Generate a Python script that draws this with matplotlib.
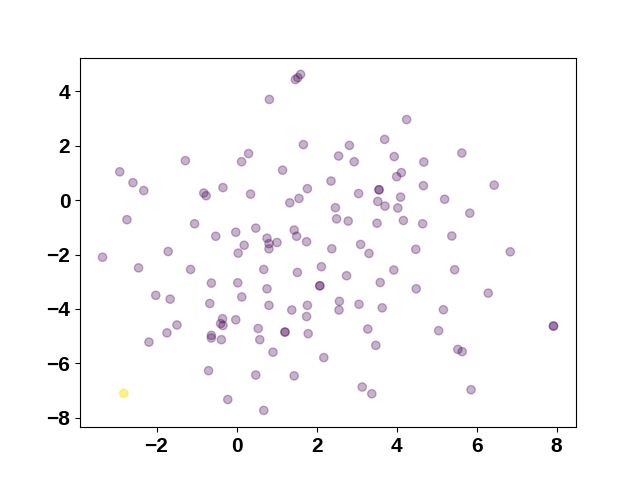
import matplotlib
matplotlib.use("Agg")
import matplotlib.pyplot as plt
import numpy as np

x = [1.60, 1.47, 1.53, 0.82, 1.67, 0.30, 0.125, -1.28, -2.92, -2.59, -2.32, 1.15,
     2.36, -0.82, -0.76, -0.34, 0.35, 1.77, 1.56, 1.33, -2.74, -1.05, -0.52, -0.02,
     0.48, 1.44, 1.50, 1.75, 0.76, 0.81, 0.81, 1.01, 0.19, 0.04, -3.35, -1.71,
     -2.45, -1.15, 0.68, 1.52, 2.12, 2.08, 2.08, -0.63, 0.03, 0.76, -2.02, -1.66,
     0.13, -0.67, 0.81, 1.38, 1.77, 1.75, -0.35, -0.40, -0.34, -0.02, -1.49, -1.74,
     -2.19, -0.63, -0.63, -0.38, 0.54, 0.58, 1.21, 1.21, 1.79, 0.91, 2.18, -0.70,
     0.48, 1.44, -0.22, 0.68, -2.82, -2.82,
     4.25, 3.70, 2.82, 2.55, 2.94, 3.94, 4.68, 5.63, 4.12, 4.00, 6.44, 4.67,
     3.56, 3.56, 3.05, 3.53, 3.71, 4.10, 4.03, 5.20, 5.83, 2.47, 2.50, 2.79,
     3.51, 4.17, 4.65, 5.38, 3.10, 2.38, 3.31, 4.48, 6.84, 2.75, 3.93, 5.45,
     3.59, 4.49, 6.29, 2.57, 2.56, 3.06, 3.64, 5.17, 7.92, 7.92, 3.28, 5.05,
     3.48, 5.53, 5.64, 3.14, 3.38, 5.86]
y = [4.62, 4.43, 4.50, 3.70, 2.04, 1.71, 1.41, 1.45, 1.04, 0.64, 0.35, 1.10,
     0.70, 0.26, 0.16, 0.46, 0.22, 0.42, 0.06, -0.10, -0.72, -0.87, -1.33, -1.18,
     -1.03, -1.10, -1.33, -1.53, -1.40, -1.60, -1.79, -1.56, -1.66, -1.95, -2.10, -1.89,
     -2.49, -2.55, -2.55, -2.66, -2.45, -3.15, -3.15, -3.05, -3.04, -3.26, -3.50, -3.64,
     -3.56, -3.80, -3.87, -4.04, -3.87, -4.28, -4.36, -4.54, -4.61, -4.40, -4.59, -4.88,
     -5.22, -4.97, -5.07, -5.13, -4.72, -5.13, -4.85, -4.85, -4.91, -5.59, -5.79, -6.27,
     -6.43, -6.46, -7.33, -7.73, -7.10, -7.10,
     2.96, 2.23, 2.01, 1.62, 1.41, 1.60, 1.40, 1.73, 1.01, 0.86, 0.55, 0.53,
     0.38, 0.38, 0.24, -0.05, -0.22, 0.11, -0.29, 0.03, -0.48, -0.28, -0.69, -0.77,
     -0.85, -0.75, -0.87, -1.32, -1.63, -1.79, -1.96, -1.81, -1.90, -2.78, -2.57, -2.56,
     -3.03, -3.26, -3.42, -3.72, -4.04, -3.83, -3.96, -4.03, -4.63, -4.63, -4.74, -4.80,
     -5.34, -5.49, -5.57, -6.87, -7.12, -6.97]
# class labels: the highlighted points (indices 76-77) are class 1
labels = [0] * len(x)
labels[76] = labels[77] = 1

fig, ax = plt.subplots(figsize=(6.4, 4.8), dpi=100)
ax.scatter(x, y, c=labels, cmap="viridis", alpha=0.3)
ax.tick_params(labelsize=15)
for lab in ax.get_xticklabels() + ax.get_yticklabels():
    lab.set_fontweight("bold")
    lab.set_fontfamily("Liberation Sans")
fig.savefig("out.png", dpi=100)
